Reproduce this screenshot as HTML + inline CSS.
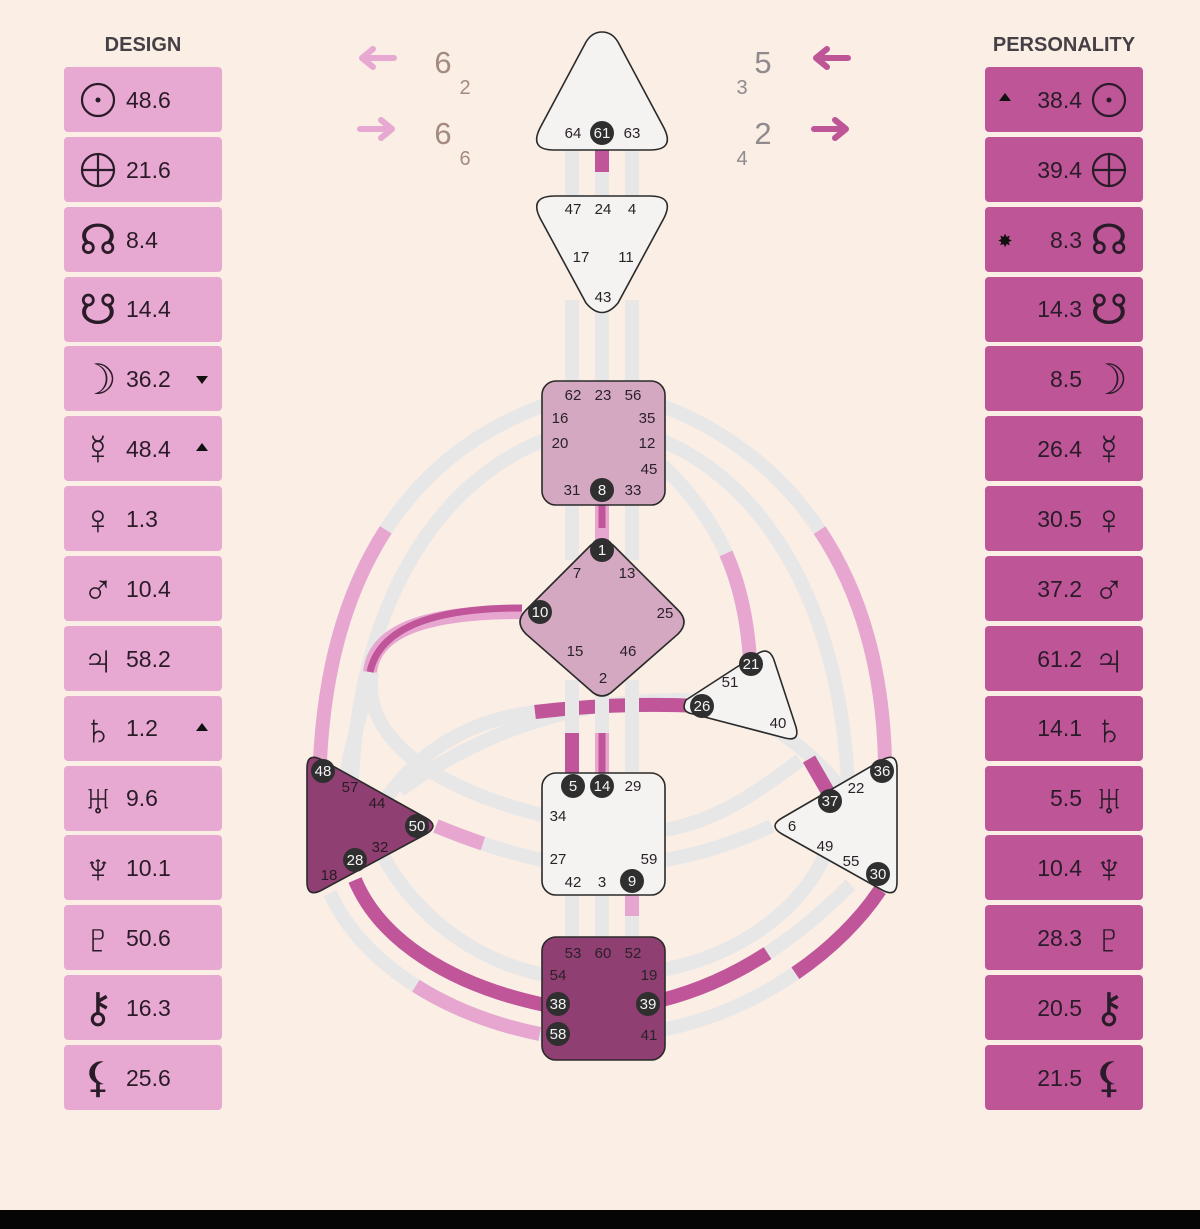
<!DOCTYPE html>
<html><head><meta charset="utf-8"><style>
html,body{margin:0;padding:0;background:#faeee5;}
svg{display:block}
text{font-family:"Liberation Sans","DejaVu Sans",sans-serif}
</style></head><body>
<svg width="1200" height="1229" viewBox="0 0 1200 1229" xmlns="http://www.w3.org/2000/svg">
<rect x="0" y="0" width="1200" height="1229" fill="#faeee5"/>
<rect x="0" y="1210" width="1200" height="19" fill="#050505"/>

<text x="143" y="51" font-size="20" font-weight="bold" fill="#454045" text-anchor="middle">DESIGN</text>
<text x="1064" y="51" font-size="20" font-weight="bold" fill="#454045" text-anchor="middle">PERSONALITY</text>

<g fill="#e7a9d1">
<rect x="64" y="67" width="158" height="65" rx="4"/>
<rect x="64" y="137" width="158" height="65" rx="4"/>
<rect x="64" y="207" width="158" height="65" rx="4"/>
<rect x="64" y="277" width="158" height="65" rx="4"/>
<rect x="64" y="346" width="158" height="65" rx="4"/>
<rect x="64" y="416" width="158" height="65" rx="4"/>
<rect x="64" y="486" width="158" height="65" rx="4"/>
<rect x="64" y="556" width="158" height="65" rx="4"/>
<rect x="64" y="626" width="158" height="65" rx="4"/>
<rect x="64" y="696" width="158" height="65" rx="4"/>
<rect x="64" y="766" width="158" height="65" rx="4"/>
<rect x="64" y="835" width="158" height="65" rx="4"/>
<rect x="64" y="905" width="158" height="65" rx="4"/>
<rect x="64" y="975" width="158" height="65" rx="4"/>
<rect x="64" y="1045" width="158" height="65" rx="4"/>
</g>
<g fill="#bd5597">
<rect x="985" y="67" width="158" height="65" rx="4"/>
<rect x="985" y="137" width="158" height="65" rx="4"/>
<rect x="985" y="207" width="158" height="65" rx="4"/>
<rect x="985" y="277" width="158" height="65" rx="4"/>
<rect x="985" y="346" width="158" height="65" rx="4"/>
<rect x="985" y="416" width="158" height="65" rx="4"/>
<rect x="985" y="486" width="158" height="65" rx="4"/>
<rect x="985" y="556" width="158" height="65" rx="4"/>
<rect x="985" y="626" width="158" height="65" rx="4"/>
<rect x="985" y="696" width="158" height="65" rx="4"/>
<rect x="985" y="766" width="158" height="65" rx="4"/>
<rect x="985" y="835" width="158" height="65" rx="4"/>
<rect x="985" y="905" width="158" height="65" rx="4"/>
<rect x="985" y="975" width="158" height="65" rx="4"/>
<rect x="985" y="1045" width="158" height="65" rx="4"/>
</g>

<!-- sun / earth as shapes -->
<g fill="none" stroke="#2a1b28" stroke-width="2.2">
<circle cx="98" cy="100" r="16"/>
<circle cx="98" cy="170" r="16"/><path d="M82,170 H114 M98,154 V186"/>
<circle cx="1109" cy="100" r="16"/>
<circle cx="1109" cy="170" r="16"/><path d="M1093,170 H1125 M1109,154 V186"/>
</g>
<circle cx="98" cy="100" r="2.5" fill="#2a1b28"/>
<circle cx="1109" cy="100" r="2.5" fill="#2a1b28"/>

<g font-family="DejaVu Sans" font-size="42" fill="#2a1b28" text-anchor="middle">
<text x="98" y="254">☊</text>
<text x="98" y="324">☋</text>
<text x="98" y="394">☽</text>
<text x="98" y="464">☿</text>
<text x="98" y="534">♀</text>
<text x="98" y="604">♂</text>
<text x="98" y="674">♃</text>
<text x="98" y="744">♄</text>
<text x="98" y="814">♅</text>
<text x="98" y="883">♆</text>
<text x="98" y="953">♇</text>
<text x="98" y="1022">⚷</text>
<text x="98" y="1092">⚸</text>
</g>
<g font-size="23" fill="#2a1b28">
<text x="126" y="108">48.6</text>
<text x="126" y="178">21.6</text>
<text x="126" y="248">8.4</text>
<text x="126" y="317">14.4</text>
<text x="126" y="387">36.2</text>
<text x="126" y="457">48.4</text>
<text x="126" y="527">1.3</text>
<text x="126" y="597">10.4</text>
<text x="126" y="667">58.2</text>
<text x="126" y="736">1.2</text>
<text x="126" y="806">9.6</text>
<text x="126" y="876">10.1</text>
<text x="126" y="946">50.6</text>
<text x="126" y="1016">16.3</text>
<text x="126" y="1086">25.6</text>
</g>
<g fill="#111">
<polygon points="196,376 208,376 202,384"/>
<polygon points="196,451 208,451 202,443"/>
<polygon points="196,731 208,731 202,723"/>
</g>

<g font-family="DejaVu Sans" font-size="42" fill="#2a1b28" text-anchor="middle">
<text x="1109" y="254">☊</text>
<text x="1109" y="324">☋</text>
<text x="1109" y="394">☽</text>
<text x="1109" y="464">☿</text>
<text x="1109" y="534">♀</text>
<text x="1109" y="604">♂</text>
<text x="1109" y="674">♃</text>
<text x="1109" y="744">♄</text>
<text x="1109" y="814">♅</text>
<text x="1109" y="883">♆</text>
<text x="1109" y="953">♇</text>
<text x="1109" y="1022">⚷</text>
<text x="1109" y="1092">⚸</text>
</g>
<g font-size="23" fill="#2a1b28" text-anchor="end">
<text x="1082" y="108">38.4</text>
<text x="1082" y="178">39.4</text>
<text x="1082" y="248">8.3</text>
<text x="1082" y="317">14.3</text>
<text x="1082" y="387">8.5</text>
<text x="1082" y="457">26.4</text>
<text x="1082" y="527">30.5</text>
<text x="1082" y="597">37.2</text>
<text x="1082" y="667">61.2</text>
<text x="1082" y="736">14.1</text>
<text x="1082" y="806">5.5</text>
<text x="1082" y="876">10.4</text>
<text x="1082" y="946">28.3</text>
<text x="1082" y="1016">20.5</text>
<text x="1082" y="1086">21.5</text>
</g>
<polygon points="999,101 1011,101 1005,93" fill="#111"/>
<text x="1005" y="247" font-size="18" fill="#111" text-anchor="middle" font-family="DejaVu Sans">✸</text>

<g stroke-linecap="round" stroke-linejoin="round" fill="none" stroke-width="6">
<path d="M394,58 H363 M373,49 L362,58 L373,67" stroke="#e7a9d1"/>
<path d="M360,129 H391 M381,120 L392,129 L381,138" stroke="#e7a9d1"/>
<path d="M848,58 H817 M827,49 L816,58 L827,67" stroke="#bd5597"/>
<path d="M814,129 H845 M835,120 L846,129 L835,138" stroke="#bd5597"/>
</g>
<g fill="#a48b80">
<text x="443" y="73" font-size="31" text-anchor="middle">6</text>
<text x="465" y="94" font-size="20" text-anchor="middle">2</text>
<text x="443" y="144" font-size="31" text-anchor="middle">6</text>
<text x="465" y="165" font-size="20" text-anchor="middle">6</text>
</g>
<g fill="#8f8a8e">
<text x="763" y="73" font-size="31" text-anchor="middle">5</text>
<text x="742" y="94" font-size="20" text-anchor="middle">3</text>
<text x="763" y="144" font-size="31" text-anchor="middle">2</text>
<text x="742" y="165" font-size="20" text-anchor="middle">4</text>
</g>

<g fill="none" stroke-width="14" stroke="#e8e7e8">
<path d="M545,405 C420,450 330,560 320,760"/>
<path d="M545,440 C440,480 360,600 352,780"/>
<path d="M660,405 C780,450 880,560 885,760"/>
<path d="M660,440 C760,480 840,600 848,785"/>
<path d="M662,465 C720,520 745,580 750,660"/>
<path d="M372,672 C360,740 440,790 542,815"/>
<path d="M372,672 C360,720 348,750 345,790"/>
<path d="M535,712 C470,720 420,750 385,800"/>
<path d="M436,826 C470,840 505,852 542,860"/>
<path d="M400,790 C470,740 560,700 680,700 C760,700 820,760 850,800"/>
<path d="M665,860 C710,852 740,840 772,826"/>
<path d="M665,830 C720,820 760,790 800,760"/>
<path d="M545,1035 C440,1015 360,960 330,893"/>
<path d="M545,975 C470,960 410,910 380,850"/>
<path d="M545,1005 C450,985 380,940 355,880"/>
<path d="M662,1030 C760,1010 840,950 880,890"/>
<path d="M662,970 C740,955 800,910 825,855"/>
<path d="M662,1000 C740,980 800,935 850,885"/>
</g>
<g fill="none" stroke-width="14">
<path d="M545,405 C420,450 330,560 320,760" stroke="#e7a6d0" pathLength="100" stroke-dasharray="0 46 54"/>
<path d="M660,405 C780,450 880,560 885,760" stroke="#e7a6d0" pathLength="100" stroke-dasharray="0 46 54"/>
<path d="M662,465 C720,520 745,580 750,660" stroke="#e7a6d0" pathLength="100" stroke-dasharray="0 50 50"/>
<path d="M522,612 C440,612 375,625 370,672" stroke="#e7a6d0"/>
<path d="M522,608 C440,608 380,625 370,672" stroke="#c0559a" stroke-width="7"/>
<path d="M436,826 C470,840 505,852 542,860" stroke="#e7a6d0" pathLength="100" stroke-dasharray="45 55"/>
<path d="M545,1035 C440,1015 360,960 330,893" stroke="#e7a6d0" pathLength="100" stroke-dasharray="0 2 50 48"/>
<path d="M545,1005 C450,985 380,940 355,880" stroke="#c0559a"/>
<path d="M662,1000 C740,980 800,935 850,885" stroke="#c0559a" pathLength="100" stroke-dasharray="52 48"/>
<path d="M662,1030 C760,1010 840,950 880,890" stroke="#c0559a" pathLength="100" stroke-dasharray="0 55 45"/>
<path d="M809,759 L828,792" stroke="#c0559a"/>
<path d="M700,706 Q620,702 535,712" stroke="#c0559a"/>
</g>
<g fill="none" stroke-width="14" stroke="#e8e7e8">
<path d="M572,150 V200 M602,150 V200 M632,150 V200"/>
<path d="M572,300 V385 M602,300 V385 M632,300 V385"/>
<path d="M572,505 V560 M632,505 V560"/>
<path d="M572,680 V775 M602,680 V775 M632,680 V775"/>
<path d="M572,895 V940 M602,895 V940 M632,895 V940"/>
</g>
<g fill="none" stroke-width="14">
<path d="M602,150 V172" stroke="#c0559a"/>
<path d="M602,505 V545" stroke="#e7a6d0"/>
<path d="M602,505 V528" stroke="#c0559a" stroke-width="7"/>
<path d="M572,733 V775" stroke="#c0559a"/>
<path d="M602,733 V775" stroke="#e7a6d0"/>
<path d="M602,733 V775" stroke="#c0559a" stroke-width="7"/>
<path d="M632,895 V916" stroke="#e7a6d0"/>
</g>

<g stroke="#2a2a2a" stroke-width="1.6" stroke-linejoin="round">
<path d="M602,32 Q612,32 618,42 L664,128 Q675,150 650,150 L554,150 Q529,150 540,128 L586,42 Q592,32 602,32 Z" fill="#f5f3f1"/>
<path d="M555,196 L650,196 Q675,196 664,218 L618,303 Q602,322 586,303 L540,218 Q529,196 555,196 Z" fill="#f5f3f1"/>
<rect x="542" y="381" width="123" height="124" rx="14" fill="#d5a8c1"/>
<path d="M590,546 Q602,534 614,546 L678,610 Q690,622 678,634 L614,690 Q602,702 590,690 L526,634 Q514,622 526,610 Z" fill="#d5a8c1"/>
<path d="M686,700 Q680,712 693,714 L785,738 Q800,742 796,727 L774,660 Q769,646 757,654 Z" fill="#f5f3f1"/>
<rect x="542" y="773" width="123" height="122" rx="14" fill="#f5f3f1"/>
<rect x="542" y="937" width="123" height="123" rx="14" fill="#8f3f72"/>
<path d="M307,768 Q307,752 322,760 L426,818 Q440,826 426,834 L322,890 Q307,898 307,882 Z" fill="#8f3f72"/>
<path d="M897,768 Q897,752 882,760 L782,818 Q768,826 782,834 L882,890 Q897,898 897,882 Z" fill="#f5f3f1"/>
</g>

<g fill="#2f2f2f">
<circle cx="602" cy="133" r="12"/>
<circle cx="602" cy="490" r="12"/>
<circle cx="602" cy="550" r="12"/>
<circle cx="540" cy="612" r="12"/>
<circle cx="751" cy="664" r="12"/>
<circle cx="702" cy="706" r="12"/>
<circle cx="573" cy="786" r="12"/>
<circle cx="602" cy="786" r="12"/>
<circle cx="632" cy="881" r="12"/>
<circle cx="323" cy="771" r="12"/>
<circle cx="417" cy="826" r="12"/>
<circle cx="355" cy="860" r="12"/>
<circle cx="882" cy="771" r="12"/>
<circle cx="830" cy="801" r="12"/>
<circle cx="878" cy="874" r="12"/>
<circle cx="558" cy="1004" r="12"/>
<circle cx="558" cy="1034" r="12"/>
<circle cx="648" cy="1004" r="12"/>
</g>
<g font-size="15" fill="#f4f4f4" text-anchor="middle">
<text x="602" y="138">61</text>
<text x="602" y="495">8</text>
<text x="602" y="555">1</text>
<text x="540" y="617">10</text>
<text x="751" y="669">21</text>
<text x="702" y="711">26</text>
<text x="573" y="791">5</text>
<text x="602" y="791">14</text>
<text x="632" y="886">9</text>
<text x="323" y="776">48</text>
<text x="417" y="831">50</text>
<text x="355" y="865">28</text>
<text x="882" y="776">36</text>
<text x="830" y="806">37</text>
<text x="878" y="879">30</text>
<text x="558" y="1009">38</text>
<text x="558" y="1039">58</text>
<text x="648" y="1009">39</text>
</g>
<g font-size="15" fill="#2a2228" text-anchor="middle">
<text x="573" y="138">64</text><text x="632" y="138">63</text>
<text x="573" y="214">47</text><text x="603" y="214">24</text><text x="632" y="214">4</text>
<text x="581" y="262">17</text><text x="626" y="262">11</text><text x="603" y="302">43</text>
<text x="573" y="400">62</text><text x="603" y="400">23</text><text x="633" y="400">56</text>
<text x="560" y="423">16</text><text x="647" y="423">35</text>
<text x="560" y="448">20</text><text x="647" y="448">12</text>
<text x="649" y="474">45</text>
<text x="572" y="495">31</text><text x="633" y="495">33</text>
<text x="577" y="578">7</text><text x="627" y="578">13</text>
<text x="665" y="618">25</text>
<text x="575" y="656">15</text><text x="628" y="656">46</text>
<text x="603" y="683">2</text>
<text x="730" y="687">51</text><text x="778" y="728">40</text>
<text x="633" y="791">29</text>
<text x="558" y="821">34</text>
<text x="558" y="864">27</text><text x="649" y="864">59</text>
<text x="573" y="887">42</text><text x="602" y="887">3</text>
<text x="573" y="958">53</text><text x="603" y="958">60</text><text x="633" y="958">52</text>
<text x="558" y="980">54</text><text x="649" y="980">19</text>
<text x="649" y="1040">41</text>
<text x="856" y="793">22</text>
<text x="792" y="831">6</text>
<text x="825" y="851">49</text><text x="851" y="866">55</text>
</g>
<g font-size="15" fill="#2a1a25" text-anchor="middle">
<text x="350" y="792">57</text><text x="377" y="808">44</text>
<text x="380" y="852">32</text><text x="329" y="880">18</text>
</g>
</svg>
</body></html>
